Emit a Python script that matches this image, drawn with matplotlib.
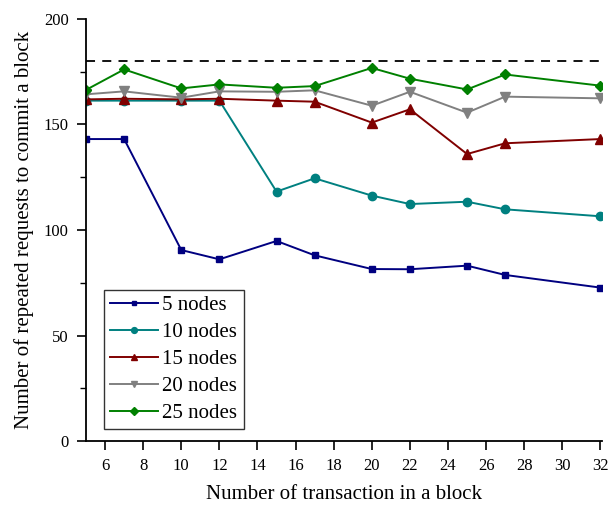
import matplotlib
matplotlib.use("Agg")
import matplotlib.pyplot as plt
from matplotlib.ticker import MultipleLocator

plt.rcParams['font.family'] = ['Liberation Serif', 'DejaVu Serif']

x = [5, 7, 10, 12, 15, 17, 20, 22, 25, 27, 32]
nodes5 = [143.1, 143.1, 90.5, 86.1, 94.8, 88.0, 81.5, 81.4, 83.1, 78.7, 72.7]
nodes10 = [161.3, 161.3, 161.3, 161.3, 118.2, 124.5, 116.3, 112.3, 113.4, 109.8, 106.5]
nodes15 = [161.9, 162.2, 161.9, 162.2, 161.3, 160.8, 150.9, 157.2, 136.0, 141.1, 143.1]
nodes20 = [164.3, 165.7, 162.7, 165.7, 165.5, 166.2, 158.9, 165.5, 155.6, 163.2, 162.4]
nodes25 = [166.4, 176.1, 167.1, 169.0, 167.4, 168.2, 176.8, 171.7, 166.6, 173.7, 168.4]
threshold = 180
labels = ['5 nodes', '10 nodes', '15 nodes', '20 nodes', '25 nodes']
xticks = list(range(6, 33, 2))

fig = plt.figure(figsize=(6.11, 5.05), dpi=100)
ax = fig.add_axes([0.1408, 0.1267, 0.845, 0.8357])

series = [nodes5, nodes10, nodes15, nodes20, nodes25]
colors = ['#000080', '#008080', '#800000', '#808080', '#008000']
markers = ['s', 'o', '^', 'v', 'D']
msizes = [5, 6, 6.5, 6.5, 5.5]
for ys, c, m, ms, lab in zip(series, colors, markers, msizes, labels):
    ax.plot(x, ys, color=c, marker=m, markersize=ms, linewidth=1.4, label=lab)

ax.plot([x[0], x[-1]], [threshold, threshold], color='black', linestyle=(0, (5, 4)), linewidth=1.3)

ax.set_xlim(5, 32.1)
ax.set_ylim(0, 200)
ax.set_xticks(xticks)
ax.yaxis.set_major_locator(MultipleLocator(50))
ax.yaxis.set_minor_locator(MultipleLocator(25))
ax.spines['top'].set_visible(False)
ax.spines['right'].set_visible(False)
for s in ['left', 'bottom']:
    ax.spines[s].set_linewidth(1.3)
ax.tick_params(axis='both', which='major', direction='out', length=6.5, width=1.2, labelsize=12, pad=6)
ax.tick_params(axis='y', which='minor', direction='out', length=4, width=1.0)

ax.set_xlabel('Number of transaction in a block', fontsize=15, labelpad=8)
ax.set_ylabel('Number of repeated requests to commit a block', fontsize=15, labelpad=7)

leg = ax.legend(loc='lower left', bbox_to_anchor=(0.035, 0.028), fontsize=15, frameon=True,
                fancybox=False, edgecolor='black', handlelength=2.3, handletextpad=0.2,
                borderpad=0.3, labelspacing=0.35, borderaxespad=0, markerscale=0.7)
leg.get_frame().set_linewidth(1.0)

fig.savefig('out.png', dpi=100)
